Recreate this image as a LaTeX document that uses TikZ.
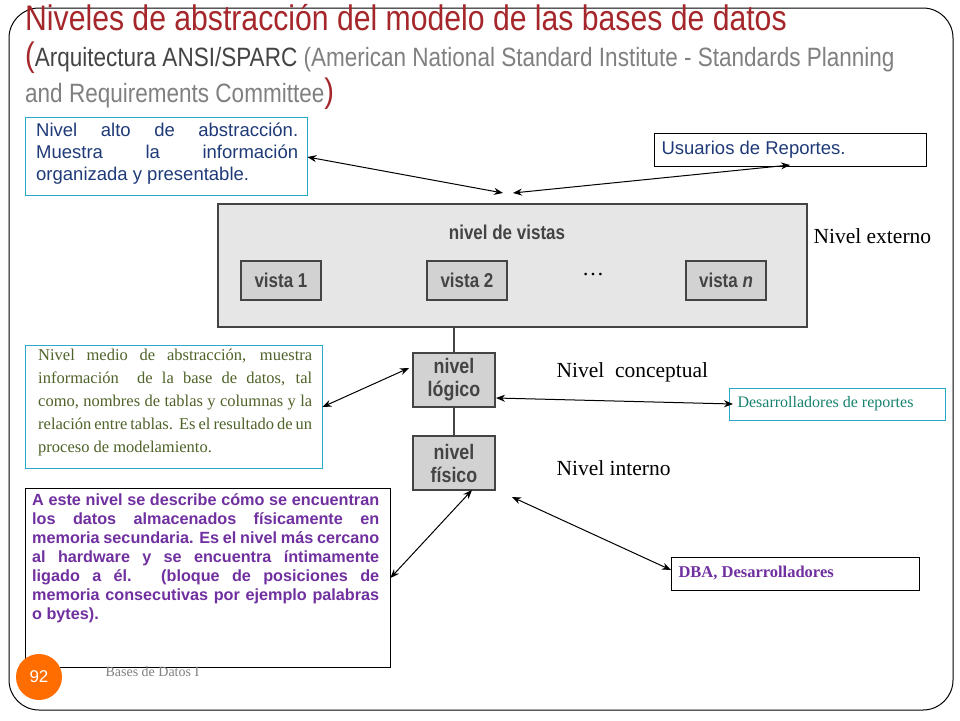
\documentclass[tikz,border=0pt]{standalone}
\usepackage{fontspec}
\setmainfont{Liberation Serif}
\newfontfamily\sans{Liberation Sans}
\newfontfamily\sansn[FakeStretch=0.85]{Liberation Sans}
\usetikzlibrary{arrows.meta}
\definecolor{tred}{HTML}{A5272B}
\definecolor{cyanb}{HTML}{2AA7C9}
\definecolor{dblue}{HTML}{1F3A78}
\definecolor{olive}{HTML}{4F6228}
\definecolor{teal2}{HTML}{16826F}
\definecolor{purp}{HTML}{7030A0}
\definecolor{lg}{HTML}{E6E6E6}
\definecolor{mg}{HTML}{D2D2D2}
\definecolor{dg}{HTML}{444444}
\tikzset{
 box/.style={draw=dg,line width=2pt},
 lbl/.style={anchor=west,font=\fontsize{21.5}{23}\selectfont},
 arr/.style={{Stealth[length=9pt,width=7pt]}-{Stealth[length=9pt,width=7pt]},line width=1pt},
 dsans/.style={font=\sansn\fontsize{20}{22}\selectfont\bfseries,text=dg}
}
\begin{document}
\begin{tikzpicture}[x=1pt,y=-1pt]
\hyphenpenalty=10000 \exhyphenpenalty=10000
\useasboundingbox (0,0) rectangle (960,720);
\fill[white] (0,0) rectangle (960,720);
\draw[line width=1pt,rounded corners=30] (9,8) rectangle (953,710);
% title
\node[anchor=base west,inner sep=0,text=tred,font=\sansn\fontsize{35.5}{37}\selectfont] (title) at (25,30) {Niveles de abstracción del modelo de las bases de datos};
\node[anchor=base west,inner sep=0,font=\sansn\fontsize{26.5}{28}\selectfont,text=gray] (sub) at (25,66) {{\color{tred}\fontsize{34}{36}\selectfont(}{\color{dg}Arquitectura ANSI/SPARC} (American National Standard Institute - Standards Planning};
\node[anchor=base west,inner sep=0,font=\sansn\fontsize{26.5}{28}\selectfont,text=gray] (sub2) at (25,102) {and Requirements Committee{\color{tred}\fontsize{34}{36}\selectfont)}};
% top boxes
\node[draw=cyanb,anchor=north west,minimum width=282,minimum height=78,inner sep=0] (b1) at (25,117) {};
\node[anchor=north west,text width=262,align=justify,inner sep=0,text=dblue,font=\sans\fontsize{18.5}{22}\selectfont] (b1t) at (36,123) {Nivel alto de abstracción. Muestra la información organizada y presentable.};
\node[draw,anchor=north west,minimum width=272,minimum height=33,inner sep=0] (b2) at (654,133) {};
\node[anchor=west,text=dblue,font=\sans\fontsize{18.5}{20}\selectfont] (b2t) at (658,149.5) {Usuarios de Reportes.};
% diagram
\node[box,fill=lg,anchor=north west,minimum width=589,minimum height=123,inner sep=0] (vist) at (217,203) {};
\node[dsans] (vt) at (507,232) {nivel de vistas};
\node[box,fill=mg,minimum width=80,minimum height=39,dsans] (v1) at (281,280) {vista 1};
\node[box,fill=mg,minimum width=80,minimum height=39,dsans] (v2) at (467,280) {vista 2};
\node[box,fill=mg,minimum width=80,minimum height=39,dsans] (vn) at (726,280) {vista \textit{n}};
\node[font=\fontsize{22}{22}\selectfont] (dots) at (593,275) {\dots};
\node[box,fill=mg,minimum width=82,minimum height=54,inner sep=0,align=center,font=\sansn\fontsize{21}{23}\selectfont\bfseries,text=dg] (log) at (454,380) {nivel\\lógico};
\node[box,fill=mg,minimum width=82,minimum height=54,inner sep=0,align=center,font=\sansn\fontsize{21}{23}\selectfont\bfseries,text=dg] (fis) at (454,463) {nivel\\físico};
\draw[dg,line width=2pt] (vist.south -| log) -- (log.north);
\draw[dg,line width=2pt] (log.south) -- (fis.north);
\node[lbl] (ne) at (810,236) {Nivel externo};
\node[lbl] (nc) at (553,372) {Nivel\ \ conceptual};
\node[lbl] (ni) at (553,468) {Nivel interno};
% green box
\node[draw=cyanb,anchor=north west,minimum width=297,minimum height=123,inner sep=0] (b3) at (25,345) {};
\node[anchor=north west,text width=274,align=justify,inner sep=0,text=olive,font=\fontsize{16.5}{23}\selectfont] (b3t) at (38,349) {Nivel medio de abstracción, muestra información\ \ de la base de datos, tal como, nombres de tablas y columnas y la relación entre tablas.\ \ Es el resultado de un proceso de modelamiento.};
\node[draw=cyanb,anchor=north west,minimum width=216,minimum height=32,inner sep=0] (b4) at (729,388) {};
\node[anchor=west,text=teal2,font=\fontsize{16}{18}\selectfont] (b4t) at (734,404) {Desarrolladores de reportes};
% purple box
\node[draw,anchor=north west,minimum width=365,minimum height=179,inner sep=0] (b5) at (25,488) {};
\node[anchor=north west,text width=347,align=justify,inner sep=0,text=purp,font=\sans\fontsize{16.2}{19}\selectfont\bfseries] (b5t) at (32,493) {A este nivel se describe cómo se encuentran\linebreak los datos almacenados físicamente en\linebreak memoria secundaria. Es el nivel más cercano\linebreak al hardware y se encuentra íntimamente\linebreak ligado a él. (bloque de posiciones de\linebreak memoria consecutivas por ejemplo palabras\linebreak o bytes).};
\node[draw,anchor=north west,minimum width=248,minimum height=33,inner sep=0] (b6) at (671,557) {};
\node[anchor=west,text=purp,font=\fontsize{16.5}{18}\selectfont\bfseries] (b6t) at (675,573.5) {DBA, Desarrolladores};
% arrows
\coordinate (a1) at (503,193); \coordinate (a2) at (513,193);
\coordinate (a4) at (472,490); \coordinate (a5) at (512,497);
\draw[arr] (b1.east |- 0,157) -- (a1);
\draw[arr] (a2) -- (790,165);
\draw[arr] (b3.east |- 0,407) -- ([xshift=-3pt]log.west |- 0,368);
\draw[arr] (log.east |- 0,398) -- (733,404);
\draw[arr] (b5.east |- 0,578) -- (a4);
\draw[arr] (a5) -- (b6.west |- 0,570);
% footer
\node[circle,fill=orange!85!red,minimum size=46,text=white,font=\sans\fontsize{17}{17}\selectfont] (pg) at (39,677) {92};
\node[anchor=west,text=gray,font=\fontsize{14}{16}\selectfont] (ft) at (102,672) {Bases de Datos I};
\end{tikzpicture}
\end{document}
